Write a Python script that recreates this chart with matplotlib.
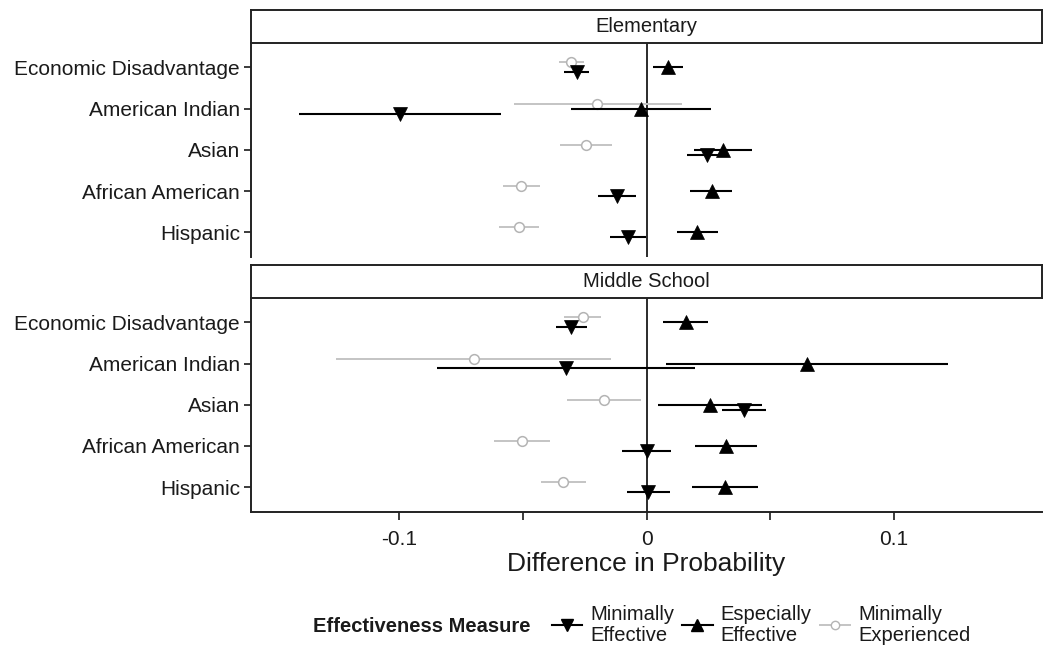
import matplotlib
matplotlib.use('Agg')
import matplotlib.pyplot as plt
import numpy as np
from matplotlib.lines import Line2D

plt.rcParams['font.family'] = ['Liberation Sans', 'DejaVu Sans']

categories = ["Economic Disadvantage", "American Indian", "Asian", "African American", "Hispanic"]
levels = ["Elementary", "Middle School"]

# Elementary school estimates with interval bounds
elem_min_est = [-0.0282, -0.0996, 0.0246, -0.0119, -0.0074]
elem_min_lo = [-0.0335, -0.1405, 0.0162, -0.0196, -0.0146]
elem_min_hi = [-0.0231, -0.0587, 0.0330, -0.0042, -0.0001]

elem_esp_est = [0.0088, -0.0022, 0.0310, 0.0263, 0.0206]
elem_esp_lo = [0.0026, -0.0304, 0.0194, 0.0178, 0.0124]
elem_esp_hi = [0.0149, 0.0259, 0.0428, 0.0347, 0.0290]

elem_exp_est = [-0.0304, -0.0200, -0.0243, -0.0507, -0.0515]
elem_exp_lo = [-0.0355, -0.0537, -0.0348, -0.0582, -0.0598]
elem_exp_hi = [-0.0254, 0.0142, -0.0139, -0.0429, -0.0433]

# Middle school estimates with interval bounds
mid_min_est = [-0.0305, -0.0324, 0.0394, 0.0000, 0.0007]
mid_min_lo = [-0.0366, -0.0847, 0.0304, -0.0101, -0.0078]
mid_min_hi = [-0.0240, 0.0198, 0.0483, 0.0101, 0.0094]

mid_esp_est = [0.0161, 0.0650, 0.0256, 0.0323, 0.0319]
mid_esp_lo = [0.0067, 0.0080, 0.0047, 0.0198, 0.0186]
mid_esp_hi = [0.0250, 0.1221, 0.0466, 0.0448, 0.0452]

mid_exp_est = [-0.0258, -0.0699, -0.0173, -0.0503, -0.0337]
mid_exp_lo = [-0.0332, -0.1255, -0.0321, -0.0615, -0.0426]
mid_exp_hi = [-0.0183, -0.0143, -0.0024, -0.0391, -0.0243]

panels = {
    "Elementary": [
        (elem_exp_est, elem_exp_lo, elem_exp_hi),
        (elem_esp_est, elem_esp_lo, elem_esp_hi),
        (elem_min_est, elem_min_lo, elem_min_hi),
    ],
    "Middle School": [
        (mid_exp_est, mid_exp_lo, mid_exp_hi),
        (mid_esp_est, mid_esp_lo, mid_esp_hi),
        (mid_min_est, mid_min_lo, mid_min_hi),
    ],
}

# styles: experienced (gray circle), especially (up), minimally (down)
styles = [
    dict(marker='o', color='#c4c4c4', mfc='white', mec='#b4b4b4', ms=7, mew=1.1, lw=1.4, zorder=2),
    dict(marker='^', color='black', mfc='black', mec='black', ms=9.5, mew=0.5, lw=1.5, zorder=3),
    dict(marker='v', color='black', mfc='black', mec='black', ms=9.5, mew=0.5, lw=1.5, zorder=3),
]
offsets = [0.12, 0.0, -0.12]

W, H = 1043, 656
fig = plt.figure(figsize=(W / 100, H / 100), dpi=100)

left, right = 251 / W, 1042 / W
panel_px = [(42.7, 257.0, 10.0), (297.7, 511.7, 265.0)]
ink = '#1a1a1a'

rows = np.arange(len(categories), 0, -1)

for k, level in enumerate(levels):
    top_px, bot_px, strip_px = panel_px[k]
    ax = fig.add_axes([left, 1 - bot_px / H, right - left, (bot_px - top_px) / H])
    sx = fig.add_axes([left, 1 - top_px / H, right - left, (top_px - strip_px) / H])
    sx.set_xticks([])
    sx.set_yticks([])
    for s in sx.spines.values():
        s.set_linewidth(1.4)
        s.set_color('#222222')
    sx.text(0.5, 0.5, level, ha='center', va='center', fontsize=14.5, color=ink,
            transform=sx.transAxes)

    ax.axvline(0, color=ink, lw=1.3, zorder=1)
    for (est, lo, hi), st, off in zip(panels[level], styles, offsets):
        est = np.array(est)
        lo = np.array(lo)
        hi = np.array(hi)
        y = rows + off
        ax.hlines(y, lo, hi, color=st['color'], lw=st['lw'], zorder=st['zorder'])
        ax.plot(est, y, ls='none', marker=st['marker'], ms=st['ms'], mfc=st['mfc'],
                mec=st['mec'], mew=st['mew'], zorder=st['zorder'] + 0.1)

    ax.set_xlim(-0.16, 0.16)
    ax.set_ylim(0.4, 5.6)
    ax.set_yticks(rows)
    ax.set_yticklabels(categories, fontsize=15, color=ink)
    ax.tick_params(axis='y', length=5, width=1.2, color=ink, pad=3)
    for side in ['top', 'right', 'bottom']:
        ax.spines[side].set_visible(False)
    ax.spines['left'].set_linewidth(1.4)
    ax.spines['left'].set_color('#222222')

    ax.set_xticks([-0.1, -0.05, 0, 0.05, 0.1])
    if k == 1:
        ax.spines['bottom'].set_visible(True)
        ax.spines['bottom'].set_linewidth(1.4)
        ax.spines['bottom'].set_color('#222222')
        ax.set_xticklabels(['-0.1', '', '0', '', '0.1'], fontsize=15, color=ink)
        ax.tick_params(axis='x', length=6, width=1.2, color=ink, pad=7)
        ax.set_xlabel('Difference in Probability', fontsize=19, color=ink, labelpad=2)
    else:
        ax.tick_params(axis='x', length=0, labelbottom=False)

# legend
fig.text(313 / W, 1 - 627 / H, 'Effectiveness Measure', fontsize=14.5, fontweight='bold',
         color=ink, ha='left', va='center')
handles = [
    Line2D([], [], color='black', lw=1.5, marker='v', ms=8, mfc='black', mec='black'),
    Line2D([], [], color='black', lw=1.5, marker='^', ms=8, mfc='black', mec='black'),
    Line2D([], [], color='#c4c4c4', lw=1.4, marker='o', ms=6, mfc='white', mec='#b4b4b4'),
]
labels = ['Minimally\nEffective', 'Especially\nEffective', 'Minimally\nExperienced']
leg = fig.legend(handles, labels, loc='center left', bbox_to_anchor=(552 / W, 1 - 625 / H),
                 ncol=3, frameon=False, fontsize=14.5, handlelength=1.5,
                 handletextpad=0.4, columnspacing=0.4, borderpad=0, borderaxespad=0)
for t in leg.get_texts():
    t.set_color(ink)
    t.set_linespacing(1.15)

fig.savefig('out.png', dpi=100)
